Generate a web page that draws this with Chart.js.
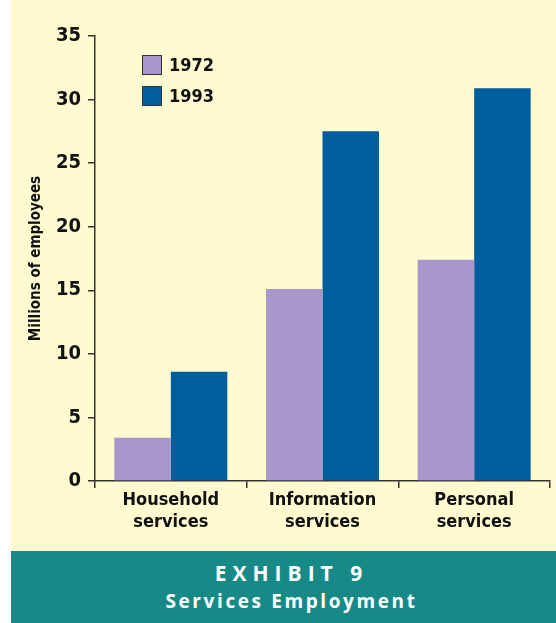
<!DOCTYPE html>
<html>
<head>
<meta charset="utf-8">
<script src="https://cdn.jsdelivr.net/npm/chart.js@4.4.0/dist/chart.umd.min.js"></script>
<style>
  body { margin: 0; background: #fff; width: 556px; height: 623px; position: relative; overflow: hidden; }
  #plot { position: absolute; left: 11px; top: 0; width: 545px; height: 551px; background: #FFFAD0; }
  #band { position: absolute; left: 11px; top: 551px; width: 545px; height: 72px; background: #178A87; color: #fff;
          font-family: 'Open Sans', sans-serif; font-weight: 700; text-align: center; }
  #band .t1 { position: absolute; left: 16px; right: 0; top: 8px; font-size: 21px; letter-spacing: 6px; }
  #band .t2 { position: absolute; left: 16px; right: 0; top: 37px; font-size: 19px; letter-spacing: 2.6px; }
</style>
</head>
<body>
<div id="plot"><canvas id="servicesChart" width="545" height="551"></canvas></div>
<div id="band"><div class="t1">EXHIBIT 9</div><div class="t2">Services Employment</div></div>
<script>
const categories = [['Household', 'services'], ['Information', 'services'], ['Personal', 'services']];
const years = ['1972', '1993'];
const values1972 = [3.4, 15.1, 17.4];
const values1993 = [8.6, 27.5, 30.9];
const yTicks = [0, 5, 10, 15, 20, 25, 30, 35];

const narrow = "'Liberation Sans Narrow', 'DejaVu Sans Condensed', sans-serif";

// legend drawn inside the plot area, top-left
const innerLegend = {
    id: 'innerLegend',
    afterDraw(chart) {
        const c = chart.ctx;
        c.save();
        chart.data.datasets.forEach((ds, i) => {
            const x = 131, y = 55 + i * 31;
            c.fillStyle = ds.backgroundColor;
            c.fillRect(x, y, 20, 20);
            c.strokeStyle = '#333';
            c.lineWidth = 1;
            c.strokeRect(x + 0.5, y + 0.5, 19, 19);
            c.fillStyle = '#111';
            c.font = 'bold 18px ' + narrow;
            c.textBaseline = 'middle';
            c.fillText(ds.label, x + 27, y + 11);
        });
        c.restore();
    }
};

new Chart(document.getElementById('servicesChart'), {
    type: 'bar',
    data: {
        labels: categories,
        datasets: [
            { label: years[0], data: values1972, backgroundColor: '#A897CA' },
            { label: years[1], data: values1993, backgroundColor: '#005E9C' }
        ]
    },
    options: {
        responsive: false,
        animation: false,
        categoryPercentage: 0.745,
        barPercentage: 1.0,
        layout: { padding: { top: 36, right: 6, left: 0, bottom: 0 } },
        plugins: { legend: { display: false }, tooltip: { enabled: false } },
        scales: {
            x: {
                border: { color: '#333', width: 1.5 },
                grid: { offset: true, drawOnChartArea: false, tickLength: 7, color: '#333', lineWidth: 1.5 },
                ticks: { color: '#111', padding: 2, font: { family: narrow, weight: 'bold', size: 18, lineHeight: 1.2 } },
                afterFit(s) { s.height = 70; }
            },
            y: {
                min: 0, max: 35,
                afterBuildTicks(s) { s.ticks = yTicks.map(v => ({ value: v })); },
                border: { color: '#333', width: 1.5 },
                grid: { drawOnChartArea: false, tickLength: 7, color: '#333', lineWidth: 1.5 },
                ticks: { color: '#111', padding: 7, font: { family: narrow, weight: 'bold', size: 20 } },
                title: { display: true, text: 'Millions of employees', color: '#111', padding: { top: 16, bottom: 0 },
                         font: { family: narrow, weight: 'bold', size: 15 } },
                afterFit(s) { s.width = 84; }
            }
        }
    },
    plugins: [innerLegend]
});
</script>
</body>
</html>
